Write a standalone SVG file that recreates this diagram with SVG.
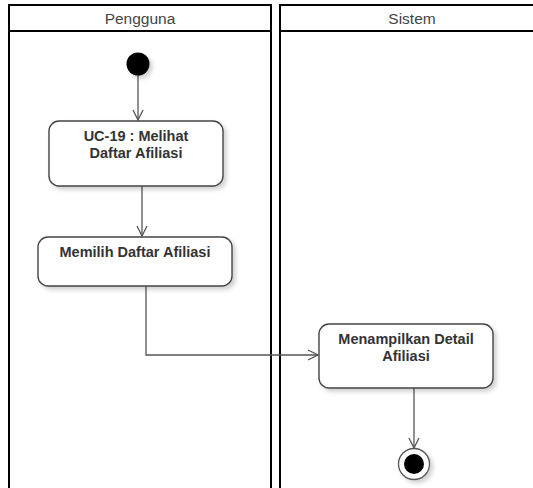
<svg xmlns="http://www.w3.org/2000/svg" width="533" height="488" viewBox="0 0 533 488">
  <style>
    .lane { fill: none; stroke: #000; stroke-width: 2; }
    .lane-title { font-family: "Liberation Sans", Arial, sans-serif; font-size: 15.5px; fill: #444; text-anchor: middle; }
    .act { fill: #fff; stroke: #444; stroke-width: 1.4; }
    .act-text { font-family: "Liberation Sans", Arial, sans-serif; font-size: 14.5px; font-weight: bold; fill: #333; text-anchor: middle; }
    .flow { fill: none; stroke: #555; stroke-width: 1.3; }
  </style>
  <defs>
    <filter id="shadow" x="-20%" y="-20%" width="150%" height="160%">
      <feDropShadow dx="3" dy="3" stdDeviation="2" flood-color="#000" flood-opacity="0.18"/>
    </filter>
    <marker id="open-arrow" viewBox="0 0 12 12" refX="11" refY="6" markerWidth="12" markerHeight="12" markerUnits="userSpaceOnUse" orient="auto">
      <path d="M1,1 L11,6 L1,11" fill="none" stroke="#555" stroke-width="1.3"/>
    </marker>
  </defs>

  <rect width="533" height="488" fill="#fff"/>

  <!-- swimlanes -->
  <g id="lane-pengguna">
    <path class="lane" d="M9,500 L9,5 L271,5 L271,500"/>
    <line class="lane" x1="9" y1="31" x2="271" y2="31"/>
    <text class="lane-title" x="140" y="24">Pengguna</text>
  </g>
  <g id="lane-sistem">
    <path class="lane" d="M280,500 L280,5 L545,5"/>
    <line class="lane" x1="280" y1="31" x2="545" y2="31"/>
    <text class="lane-title" x="412" y="24">Sistem</text>
  </g>

  <!-- connectors -->
  <g id="connectors">
    <line class="flow" x1="138" y1="75" x2="138" y2="120" marker-end="url(#open-arrow)"/>
    <line class="flow" x1="142" y1="186" x2="142" y2="236" marker-end="url(#open-arrow)"/>
    <polyline class="flow" points="146,286 146,355 318,355" marker-end="url(#open-arrow)"/>
    <line class="flow" x1="414" y1="388" x2="414" y2="448" marker-end="url(#open-arrow)"/>
  </g>

  <!-- nodes -->
  <g id="start">
    <circle cx="138" cy="64" r="11.5" fill="#000" filter="url(#shadow)"/>
  </g>

  <g id="uc19-melihat-daftar-afiliasi">
    <rect class="act" x="49" y="121" width="174" height="65" rx="10" filter="url(#shadow)"/>
    <text class="act-text" x="136" y="141">UC-19 : Melihat</text>
    <text class="act-text" x="136" y="157.5">Daftar Afiliasi</text>
  </g>

  <g id="memilih-daftar-afiliasi">
    <rect class="act" x="38" y="237" width="194" height="49" rx="10" filter="url(#shadow)"/>
    <text class="act-text" x="135" y="257">Memilih Daftar Afiliasi</text>
  </g>

  <g id="menampilkan-detail-afiliasi">
    <rect class="act" x="319" y="324" width="174" height="64" rx="10" filter="url(#shadow)"/>
    <text class="act-text" x="406" y="344">Menampilkan Detail</text>
    <text class="act-text" x="406" y="360.5">Afiliasi</text>
  </g>

  <g id="end">
    <circle cx="414" cy="464" r="15.5" fill="#fff" stroke="#555" stroke-width="1.3" filter="url(#shadow)"/>
    <circle cx="414" cy="464" r="10" fill="#000"/>
  </g>
</svg>
